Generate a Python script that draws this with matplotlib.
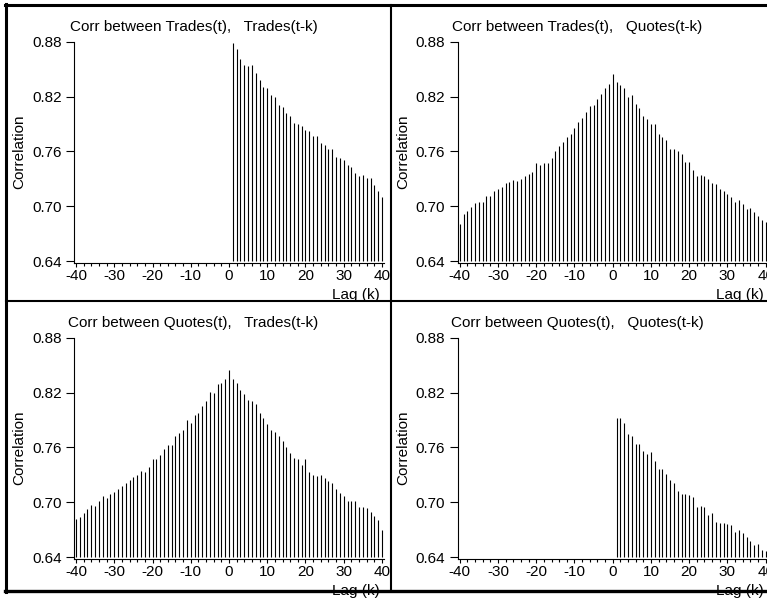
import numpy as np
import matplotlib.pyplot as plt
from matplotlib.lines import Line2D

plt.rcParams['font.family'] = ['Liberation Sans', 'DejaVu Sans']
plt.rcParams['font.size'] = 11
plt.rcParams['axes.unicode_minus'] = False

# lags
lags_pos = list(range(1, 41))
lags_all = list(range(-40, 41))

# Corr between Trades(t), Trades(t-k)   (k = 1..40)
trades_trades = [0.879, 0.872, 0.861, 0.855, 0.853, 0.854, 0.846, 0.838, 0.831, 0.829,
                 0.822, 0.820, 0.811, 0.809, 0.802, 0.799, 0.791, 0.790, 0.788, 0.784,
                 0.782, 0.777, 0.777, 0.769, 0.767, 0.763, 0.763, 0.754, 0.753, 0.751,
                 0.745, 0.743, 0.737, 0.733, 0.734, 0.731, 0.731, 0.723, 0.717, 0.710]

# Corr between Trades(t), Quotes(t-k)   (k = -40..40)
trades_quotes = [0.681, 0.692, 0.695, 0.699, 0.704, 0.705, 0.705, 0.711, 0.711, 0.717,
                 0.719, 0.721, 0.726, 0.727, 0.729, 0.728, 0.730, 0.733, 0.735, 0.738,
                 0.747, 0.745, 0.747, 0.747, 0.753, 0.760, 0.766, 0.770, 0.776, 0.779,
                 0.786, 0.792, 0.797, 0.803, 0.810, 0.811, 0.817, 0.823, 0.829, 0.834,
                 0.845,
                 0.836, 0.833, 0.829, 0.820, 0.822, 0.812, 0.807, 0.799, 0.795, 0.790,
                 0.790, 0.779, 0.776, 0.773, 0.763, 0.763, 0.761, 0.757, 0.748, 0.748,
                 0.740, 0.733, 0.734, 0.733, 0.730, 0.726, 0.724, 0.719, 0.717, 0.714,
                 0.710, 0.705, 0.707, 0.703, 0.697, 0.698, 0.694, 0.689, 0.685, 0.683]

# Corr between Quotes(t), Trades(t-k)   (k = -40..40)
quotes_trades = [0.682, 0.684, 0.688, 0.693, 0.697, 0.696, 0.702, 0.707, 0.705, 0.709,
                 0.711, 0.715, 0.718, 0.721, 0.724, 0.728, 0.730, 0.734, 0.733, 0.739,
                 0.747, 0.747, 0.752, 0.758, 0.763, 0.763, 0.773, 0.776, 0.779, 0.790,
                 0.787, 0.796, 0.798, 0.805, 0.811, 0.821, 0.820, 0.829, 0.831, 0.835,
                 0.845,
                 0.835, 0.830, 0.823, 0.819, 0.812, 0.811, 0.807, 0.798, 0.792, 0.786,
                 0.779, 0.777, 0.773, 0.767, 0.760, 0.754, 0.748, 0.747, 0.741, 0.747,
                 0.733, 0.730, 0.729, 0.730, 0.727, 0.723, 0.721, 0.715, 0.710, 0.707,
                 0.701, 0.701, 0.701, 0.695, 0.695, 0.694, 0.689, 0.685, 0.681, 0.670]

# Corr between Quotes(t), Quotes(t-k)   (k = 1..40)
quotes_quotes = [0.792, 0.792, 0.787, 0.775, 0.773, 0.764, 0.764, 0.756, 0.753, 0.755,
                 0.745, 0.737, 0.737, 0.731, 0.725, 0.721, 0.712, 0.709, 0.709, 0.708,
                 0.706, 0.695, 0.696, 0.695, 0.686, 0.688, 0.679, 0.678, 0.677, 0.676,
                 0.675, 0.668, 0.670, 0.666, 0.662, 0.658, 0.653, 0.654, 0.648, 0.647]

W, H = 767, 600
fig = plt.figure(figsize=(W / 100, H / 100), dpi=100)

panels = [
    # axes left px, top px, title, x, y
    (74.1, 41.7, 'Corr between Trades(t),   Trades(t-k)', lags_pos, trades_trades),
    (457.8, 41.7, 'Corr between Trades(t),   Quotes(t-k)', lags_all, trades_quotes),
    (74.1, 337.7, 'Corr between Quotes(t),   Trades(t-k)', lags_all, quotes_trades),
    (457.8, 337.7, 'Corr between Quotes(t),   Quotes(t-k)', lags_pos, quotes_quotes),
]

ax_w, ax_h = 309.8, 221.6
for left, top, title, x, y in panels:
    ax = fig.add_axes([left / W, 1 - (top + ax_h) / H, ax_w / W, ax_h / H])
    ax.vlines(x, 0.64, y, color='black', lw=0.8)
    ax.set_xlim(-40.5, 40.5)
    ax.set_ylim(0.6378, 0.88)
    ax.spines['top'].set_visible(False)
    ax.spines['right'].set_visible(False)
    ax.spines['left'].set_linewidth(0.8)
    ax.spines['bottom'].set_linewidth(0.8)
    ax.set_xticks(range(-40, 41, 10))
    ax.set_xticks(range(-40, 41, 2), minor=True)
    ax.set_yticks([0.64, 0.70, 0.76, 0.82, 0.88])
    ax.set_yticklabels(['0.64', '0.70', '0.76', '0.82', '0.88'])
    ax.tick_params(axis='x', which='major', length=3, width=0.8, pad=1, labelsize=11)
    ax.tick_params(axis='x', which='minor', length=2, width=0.8)
    ax.tick_params(axis='y', length=6, width=0.8, pad=3, labelsize=11)
    dx = left - 74.1
    dy = top - 41.7
    fig.text((193.5 + dx) / W, 1 - (30.7 + dy) / H, title,
             ha='center', va='baseline', fontsize=11)
    fig.text((19.5 + dx) / W, 1 - (152 + dy) / H, 'Correlation',
             rotation=90, ha='center', va='center', fontsize=11)
    fig.text((380 + dx) / W, 1 - (298.5 + dy) / H, 'Lag (k)',
             ha='right', va='baseline', fontsize=11)

# panel frame lines
def hline(y, x0, x1, lw):
    fig.add_artist(Line2D([x0 / W, x1 / W], [1 - y / H, 1 - y / H],
                          transform=fig.transFigure, color='black', lw=lw, zorder=5))

def vline(x, y0, y1, lw):
    fig.add_artist(Line2D([x / W, x / W], [1 - y0 / H, 1 - y1 / H],
                          transform=fig.transFigure, color='black', lw=lw, zorder=5))

hline(5, 4.5, W, 2.2)
hline(590.5, 4.5, W, 2.4)
hline(301, 6, W, 1.5)
vline(6, 4, 592, 2.2)
vline(391, 5, 590, 1.5)

fig.savefig('out.png', dpi=100)
